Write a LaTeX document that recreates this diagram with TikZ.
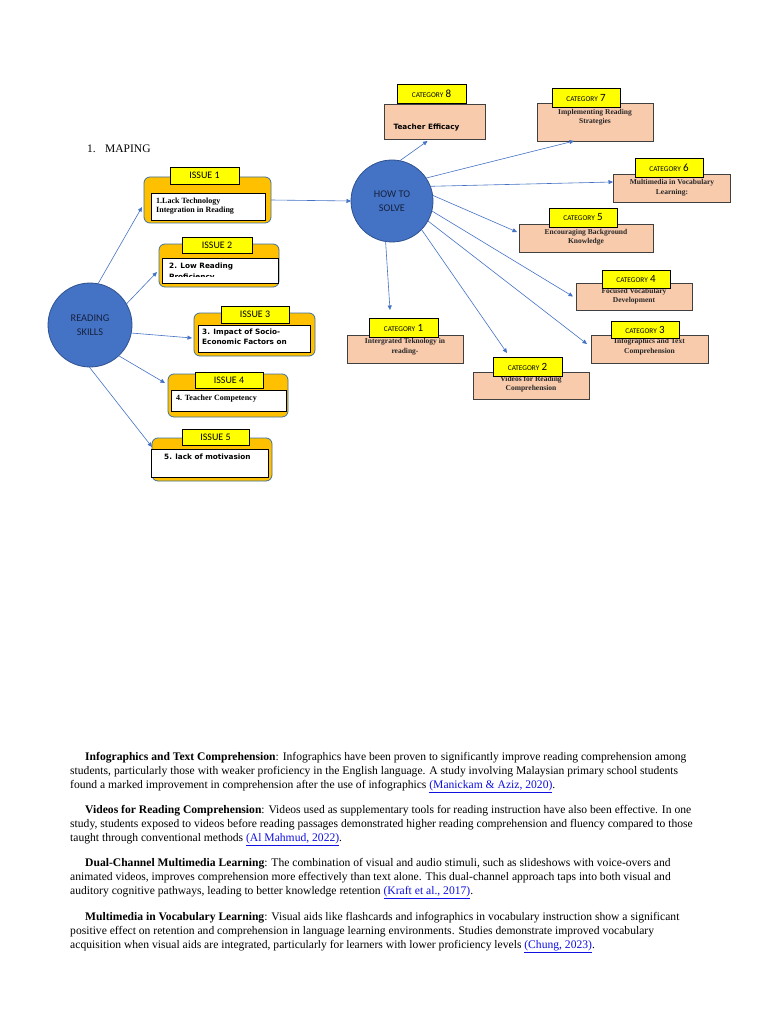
\documentclass[tikz,border=0pt]{standalone}
\usepackage{fontspec}
\setmainfont{Liberation Serif}
\newfontfamily\calibri{Carlito}
\newfontfamily\verdana{DejaVu Sans}
\usetikzlibrary{arrows.meta}

\definecolor{nodeblue}{HTML}{4472C4}
\definecolor{edgeblue}{HTML}{2F528F}
\definecolor{issorange}{HTML}{FFC000}
\definecolor{issframe}{HTML}{41719C}
\definecolor{tagyellow}{HTML}{FFFF00}
\definecolor{catfill}{HTML}{F8CBAD}
\definecolor{catframe}{HTML}{404040}
\definecolor{linkblue}{HTML}{1010E0}
\definecolor{navy}{HTML}{16213F}

\newcommand{\cattag}[1]{{\fontsize{7.3}{9}\selectfont CATEGORY} {\fontsize{11}{11}\selectfont #1}}
\newcommand{\reflink}[1]{\textcolor{linkblue}{\underline{#1}}}

\begin{document}
\begin{tikzpicture}[x=1pt,y=-1pt,>={Triangle[length=4.5pt,width=4pt]}]
  \tikzstyle{hub}=[circle,fill=nodeblue,draw=edgeblue,line width=0.8pt,inner sep=0pt,outer sep=0pt,align=center,text=navy,font=\calibri\fontsize{10.3}{14}\selectfont]
  \tikzstyle{issue}=[rectangle,rounded corners=6pt,fill=issorange,draw=issframe,line width=0.8pt,inner sep=0pt,outer sep=0pt,minimum width=120pt,minimum height=43pt]
  \tikzstyle{inbox}=[rectangle,fill=white,draw=black,line width=0.8pt,inner sep=0pt,outer sep=0pt]
  \tikzstyle{tag}=[rectangle,fill=tagyellow,draw=black,line width=0.7pt,inner sep=0pt,outer sep=0pt,font=\calibri\fontsize{10}{12}\selectfont]
  \tikzstyle{cat}=[rectangle,fill=catfill,draw=catframe,line width=0.9pt,inner sep=0pt,outer sep=0pt,minimum width=116pt,minimum height=28pt]
  \tikzstyle{sbold}=[inner sep=0pt,align=left,font=\bfseries\fontsize{8}{9}\selectfont]
  \tikzstyle{vbold}=[inner sep=0pt,align=left,font=\verdana\bfseries\fontsize{7.3}{11}\selectfont]
  \tikzstyle{cbold}=[inner sep=0pt,align=center,text=black!85,font=\bfseries\fontsize{7.5}{9.5}\selectfont]
  \tikzstyle{para}=[inner sep=0pt,align=left,anchor=north west,font=\fontsize{11.6}{14}\selectfont]
  \tikzstyle{link}=[->,draw=nodeblue,line width=0.6pt]

  \path[use as bounding box,fill=white] (0,0) rectangle (768,1024);

  % heading
  \node[anchor=base west,inner sep=0pt,font=\fontsize{11.5}{14}\selectfont] (num) at (87,153) {1.};
  \node[anchor=base west,inner sep=0pt,font=\fontsize{11.5}{14}\selectfont] (head) at (105,153) {MAPING};

  % hubs
  \node[hub,minimum size=84pt] (rs)  at (90,325)  {READING\\SKILLS};
  \node[hub,minimum size=82pt] (hts) at (392,201) {HOW TO\\SOLVE};

  % issues
  \node[issue,minimum width=127pt,minimum height=46pt] (iss1) at (207.5,200) {};
  \node[inbox,minimum width=114pt,minimum height=27pt] (in1) at (208,206.5) {};
  \node[tag,minimum width=69pt,minimum height=17pt] (tag1) at (204.5,175.5) {ISSUE 1};
  \node[sbold,anchor=north west] (txt1) at ([shift={(5,5)}]in1.north west) {1.Lack Technology\\Integration in Reading};

  \node[issue] (iss2) at (219,265.5) {};
  \node[inbox,minimum width=116pt,minimum height=25pt] (in2) at (220,270.5) {};
  \node[tag,minimum width=70pt,minimum height=16pt] (tag2) at (217,245) {ISSUE 2};
  \begin{scope}
    \clip (in2.north west) rectangle ([shift={(0,-6.5)}]in2.south east);
    \node[vbold,anchor=north west] (txt2) at ([shift={(7,5)}]in2.north west) {2. Low Reading\\Proficiency};
  \end{scope}

  \node[issue,minimum width=121pt] (iss3) at (254.5,334.5) {};
  \node[inbox,minimum width=112pt,minimum height=27pt] (in3) at (254,338.5) {};
  \node[tag,minimum width=68pt,minimum height=17pt] (tag3) at (255,314.5) {ISSUE 3};
  \node[vbold,anchor=north west,font=\verdana\bfseries\fontsize{7.3}{10}\selectfont] (txt3) at ([shift={(4,3.5)}]in3.north west) {3. Impact of Socio-\\Economic Factors on};

  \node[issue] (iss4) at (228,395.5) {};
  \node[inbox,minimum width=115pt,minimum height=21pt] (in4) at (228.5,400.5) {};
  \node[tag,minimum width=68pt,minimum height=16pt] (tag4) at (229,380) {ISSUE 4};
  \node[sbold,anchor=north west] (txt4) at ([shift={(5,4.5)}]in4.north west) {4. Teacher Competency};

  \node[issue] (iss5) at (212,459.5) {};
  \node[inbox,minimum width=117pt,minimum height=28pt] (in5) at (209.5,463) {};
  \node[tag,minimum width=67pt,minimum height=16pt] (tag5) at (215.5,437) {ISSUE 5};
  \node[vbold,anchor=north west] (txt5) at ([shift={(13,4.5)}]in5.north west) {5. lack of motivasion};

  % categories
  \node[cat,minimum width=101pt,minimum height=35pt] (cat8) at (434.5,121.5) {};
  \node[vbold,align=center] (txt8) at (426.5,128) {Teacher Efficacy};
  \node[tag,minimum width=69pt,minimum height=19pt] (tag8) at (431.5,93.5) {\cattag{8}};

  \node[cat,minimum height=38pt] (cat7) at (595,122) {};
  \node[cbold] (txt7) at (595,117) {Implementing Reading\\Strategies};
  \node[tag,minimum width=68pt,minimum height=19pt] (tag7) at (586,97.5) {\cattag{7}};

  \node[cat,minimum width=117pt] (cat6) at (671.5,188) {};
  \node[cbold] (txt6) at (672,187.5) {Multimedia in Vocabulary\\Learning:};
  \node[tag,minimum width=68pt,minimum height=19pt] (tag6) at (669,167.5) {\cattag{6}};

  \node[cat,minimum width=134pt] (cat5) at (586,238) {};
  \node[cbold] (txt5c) at (586,237) {Encouraging Background\\Knowledge};
  \node[tag,minimum width=68pt,minimum height=19pt] (tag5c) at (583,217.5) {\cattag{5}};

  \node[cat,minimum height=27pt] (cat4) at (634,296.5) {};
  \node[cbold] (txt4c) at (634,296) {Focused Vocabulary\\Development};
  \node[tag,minimum width=68pt,minimum height=18pt] (tag4c) at (636,279) {\cattag{4}};

  \node[cat,minimum width=117pt] (cat3) at (649.5,349) {};
  \node[cbold] (txt3c) at (649.5,346.5) {Infographics and Text\\Comprehension};
  \node[tag,minimum width=68pt,minimum height=17pt] (tag3c) at (645,329.5) {\cattag{3}};

  \node[cat,minimum height=27pt] (cat2) at (531,385.5) {};
  \node[cbold] (txt2c) at (531,384) {Videos for Reading\\Comprehension};
  \node[tag,minimum width=69pt,minimum height=19pt] (tag2c) at (527.5,366.5) {\cattag{2}};

  \node[cat] (cat1) at (405,349) {};
  \node[cbold] (txt1c) at (405,346.5) {Intergrated Teknology in\\reading-};
  \node[tag,minimum width=69pt,minimum height=19pt] (tag1c) at (403.5,327.5) {\cattag{1}};

  % connectors
  \draw[link] (rs.79)  -- ([shift={(-2,7)}]iss1.west);
  \draw[link] (rs.30)  -- ([shift={(-2,6.5)}]iss2.west);
  \draw[link] (rs.-11) -- ([shift={(-2,3.5)}]iss3.west);
  \draw[link] (rs.-47) -- ([shift={(-3,-12.5)}]iss4.west);
  \draw[link] (rs.-91) -- ([shift={(0,-12.5)}]iss5.west);
  \draw[link] (iss1.east) -- (hts.west);

  \draw[link] (hts.79)  -- ([shift={(-7,2)}]cat8.south);
  \draw[link] (hts.34)  -- ([shift={(-21,0)}]cat7.south);
  \draw[link] (hts.21)  -- ([shift={(0,-6)}]cat6.west);
  \draw[link] (hts.8)   -- ([shift={(-2,-6)}]cat5.west);
  \draw[link] (hts.-14) -- ([shift={(-3,0)}]cat4.west);
  \draw[link] (hts.-29) -- ([shift={(-4,-5)}]cat3.west);
  \draw[link] (hts.-44) -- ([shift={(-24,-19)}]cat2.north);
  \draw[link] (hts.-99) -- ([shift={(-15,-25)}]cat1.north);

  % text below
  \node[para] (p1) at (70,750.2) {\strut\hspace*{15pt}\textbf{Infographics and Text Comprehension}: Infographics have been proven to significantly improve reading comprehension among\\
    students, particularly those with weaker proficiency in the English language. A study involving Malaysian primary school students\\
    found a marked improvement in comprehension after the use of infographics \reflink{(Manickam \& Aziz, 2020)}.};
  \node[para] (p2) at (70,803.2) {\strut\hspace*{15pt}\textbf{Videos for Reading Comprehension}: Videos used as supplementary tools for reading instruction have also been effective. In one\\
    study, students exposed to videos before reading passages demonstrated higher reading comprehension and fluency compared to those\\
    taught through conventional methods \reflink{(Al Mahmud, 2022)}.};
  \node[para] (p3) at (70,856.2) {\strut\hspace*{15pt}\textbf{Dual-Channel Multimedia Learning}: The combination of visual and audio stimuli, such as slideshows with voice-overs and\\
    animated videos, improves comprehension more effectively than text alone. This dual-channel approach taps into both visual and\\
    auditory cognitive pathways, leading to better knowledge retention \reflink{(Kraft et al., 2017)}.};
  \node[para] (p4) at (70,910.2) {\strut\hspace*{15pt}\textbf{Multimedia in Vocabulary Learning}: Visual aids like flashcards and infographics in vocabulary instruction show a significant\\
    positive effect on retention and comprehension in language learning environments. Studies demonstrate improved vocabulary\\
    acquisition when visual aids are integrated, particularly for learners with lower proficiency levels \reflink{(Chung, 2023)}.};
\end{tikzpicture}
\end{document}
